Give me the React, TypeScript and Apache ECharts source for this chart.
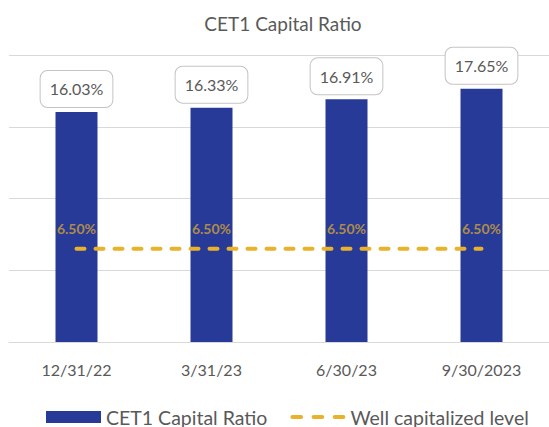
import { useEffect, useRef } from "react";
import * as echarts from "echarts";

const categories = ["12/31/22", "3/31/23", "6/30/23", "9/30/2023"];
const cet1Values = [16.03, 16.33, 16.91, 17.65];
const wellCapitalized = [6.5, 6.5, 6.5, 6.5];
const yMin = 0;
const yMax = 20;
const yInterval = 5;

const FONT = "Lato, 'Noto Sans', sans-serif";
const BAR_COLOR = "#283a97";
const GOLD = "#e8b22a";
const GOLD_TEXT = "#d2a332";
const TEXT = "#595959";

const DASH_ICON =
  "path://M2 0H10A2 2 0 0 1 10 4H2A2 2 0 0 1 2 0Z" +
  "M22 0H30A2 2 0 0 1 30 4H22A2 2 0 0 1 22 0Z" +
  "M42 0H50A2 2 0 0 1 50 4H42A2 2 0 0 1 42 0Z";

export default function App() {
  const ref = useRef<HTMLDivElement>(null);
  useEffect(() => {
    const chart = echarts.init(ref.current!, null, { renderer: "svg" });
    chart.setOption({
      animation: false,
      backgroundColor: "#ffffff",
      textStyle: { fontFamily: FONT },
      title: {
        text: "CET1 Capital Ratio",
        left: 278,
        textAlign: "center",
        top: 9,
        textStyle: { fontFamily: FONT, fontSize: 19, fontWeight: "normal", color: TEXT },
      },
      legend: {
        left: 41,
        top: 402,
        itemWidth: 55,
        itemHeight: 12,
        itemGap: 23,
        textStyle: { fontFamily: FONT, fontSize: 19.5, color: TEXT },
        data: [
          { name: "CET1 Capital Ratio", icon: "rect" },
          { name: "Well capitalized level", icon: DASH_ICON },
        ],
      },
      grid: { left: 9, right: 0, top: 55, bottom: 85, containLabel: false },
      xAxis: {
        type: "category",
        data: categories,
        axisLine: { show: true, lineStyle: { color: "#d9d9d9", width: 1 } },
        axisTick: { show: false },
        axisLabel: { fontFamily: FONT, fontSize: 16, color: TEXT, margin: 19 },
      },
      yAxis: {
        type: "value",
        min: yMin,
        max: yMax,
        interval: yInterval,
        axisLabel: { show: false },
        axisLine: { show: false },
        axisTick: { show: false },
        splitLine: { lineStyle: { color: "#d9d9d9", width: 1 } },
      },
      series: [
        {
          name: "CET1 Capital Ratio",
          type: "bar",
          data: cet1Values,
          barWidth: 42,
          itemStyle: { color: BAR_COLOR },
          label: {
            show: true,
            position: "top",
            distance: 5,
            formatter: (p: any) => p.value.toFixed(2) + "%",
            fontFamily: FONT,
            fontSize: 16,
            lineHeight: 20,
            color: TEXT,
            backgroundColor: "#ffffff",
            borderColor: "#c4c4c4",
            borderWidth: 1,
            borderRadius: 7,
            padding: [8, 9],
          },
          z: 2,
        },
        {
          name: "Well capitalized level",
          type: "line",
          data: wellCapitalized,
          symbol: "none",
          color: GOLD,
          itemStyle: { color: GOLD },
          lineStyle: { color: GOLD, width: 4, type: [8, 11], cap: "round" },
          z: 3,
        },
        {
          name: "labels",
          type: "scatter",
          data: wellCapitalized,
          symbolSize: 1,
          itemStyle: { color: "rgba(0,0,0,0)" },
          label: {
            show: true,
            position: "top",
            distance: 13,
            formatter: (p: any) => p.value.toFixed(2) + "%",
            fontFamily: FONT,
            fontSize: 14,
            fontWeight: "bold",
            color: GOLD_TEXT,
          },
          z: 4,
        },
      ],
    });
    return () => chart.dispose();
  }, []);
  return (
    <div
      ref={ref}
      style={{ position: "fixed", left: 0, top: 0, width: 549, height: 427 }}
    />
  );
}
